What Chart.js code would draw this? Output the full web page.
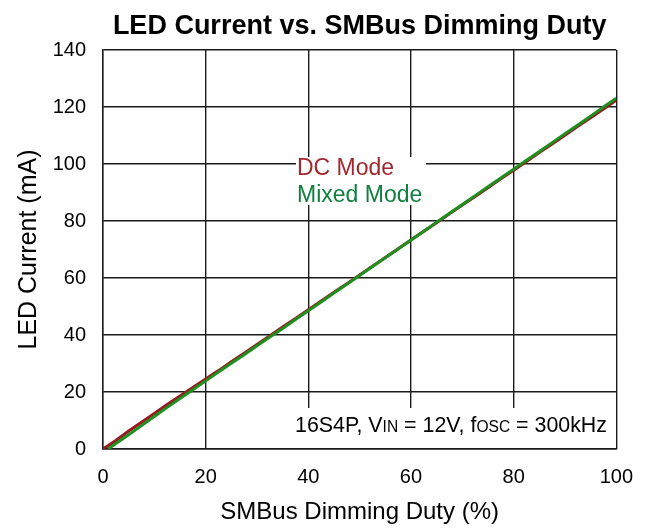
<!DOCTYPE html>
<html>
<head>
<meta charset="utf-8">
<script src="https://cdn.jsdelivr.net/npm/chart.js@4"></script>
<style>
  html, body { margin: 0; padding: 0; background: #fff; }
  #wrap { width: 649px; height: 531px; }
</style>
</head>
<body>
<div id="wrap"><canvas id="myChart" width="649" height="531"></canvas></div>
<script>
let dutyDC = [0, 2.5, 5, 7.5, 10, 12.5, 15, 17.5, 20, 22.5, 25, 27.5, 30, 32.5, 35, 37.5, 40, 42.5, 45, 47.5, 50,
              52.5, 55, 57.5, 60, 62.5, 65, 67.5, 70, 72.5, 75, 77.5, 80, 82.5, 85, 87.5, 90, 92.5, 95, 97.5, 100];
let currentDC = [0, 3.0, 6.3, 9.4, 12.5, 15.6, 18.6, 21.6, 24.6, 27.5, 30.6, 33.6, 36.7, 39.7, 42.8, 45.8, 48.9, 51.9, 55.0, 58.0, 61.1,
                 64.1, 67.2, 70.3, 73.3, 76.4, 79.4, 82.5, 85.6, 88.6, 91.7, 94.8, 97.8, 100.9, 104.0, 107.0, 110.1, 113.2, 116.2, 119.3, 122.4];
let dutyMixed = [1.0, 2.5, 5, 7.5, 10, 12.5, 15, 17.5, 20, 22.5, 25, 27.5, 30, 32.5, 35, 37.5, 40, 42.5, 45, 47.5, 50,
                 52.5, 55, 57.5, 60, 62.5, 65, 67.5, 70, 72.5, 75, 77.5, 80, 82.5, 85, 87.5, 90, 92.5, 95, 97.5, 100];
let currentMixed = [0, 1.9, 5.0, 8.2, 11.4, 14.6, 17.7, 20.8, 23.9, 27.0, 30.1, 33.1, 36.2, 39.3, 42.3, 45.4, 48.5, 51.6, 54.7, 57.8, 60.9,
                    64.0, 67.1, 70.2, 73.3, 76.4, 79.6, 82.7, 85.8, 88.9, 92.0, 95.1, 98.2, 101.3, 104.4, 107.5, 110.6, 113.7, 116.8, 120.0, 123.1];
let seriesNames = ['DC Mode', 'Mixed Mode'];
let xTicks = [0, 20, 40, 60, 80, 100];
let yTicks = [0, 20, 40, 60, 80, 100, 120, 140];

const FONT = "'Liberation Sans', Arial, sans-serif";

function pts(xs, ys) {
    return xs.map((x, i) => ({ x: x, y: ys[i] }));
}

// title, legend text and the condition note, drawn on top of the grid
const notes = {
    id: 'notes',
    afterDatasetsDraw(chart) {
        const ctx = chart.ctx;
        const area = chart.chartArea;
        ctx.save();

        ctx.fillStyle = '#000';
        ctx.font = 'bold 27px ' + FONT;
        ctx.textAlign = 'center';
        ctx.textBaseline = 'alphabetic';
        ctx.fillText('LED Current vs. SMBus Dimming Duty', (area.left + area.right) / 2, 34);

        // legend
        ctx.fillStyle = '#fff';
        ctx.fillRect(296, 157, 130, 48);
        ctx.font = '23px ' + FONT;
        ctx.textAlign = 'left';
        ctx.fillStyle = '#a0282e';
        ctx.fillText(seriesNames[0], 297, 175);
        ctx.fillStyle = '#0f8040';
        ctx.fillText(seriesNames[1], 297, 202);

        // condition note
        ctx.fillStyle = '#fff';
        ctx.fillRect(290, 408, area.right - 291, area.bottom - 409);
        ctx.fillStyle = '#000';
        const parts = [['16S4P, V', 22, 0], ['IN', 16, 0], [' = 12V, f', 22, 0], ['OSC', 16, 0], [' = 300kHz', 22, 0]];
        let total = 0;
        parts.forEach(p => { ctx.font = p[1] + 'px ' + FONT; total += ctx.measureText(p[0]).width; });
        ctx.translate(295, 432);
        ctx.scale(312 / total, 1);
        let x = 0;
        parts.forEach(p => {
            ctx.font = p[1] + 'px ' + FONT;
            ctx.fillText(p[0], x, p[2]);
            x += ctx.measureText(p[0]).width;
        });
        ctx.restore();
    }
};

let chart = new Chart(document.getElementById('myChart').getContext('2d'), {
    type: 'line',
    data: {
        datasets: [{
            label: seriesNames[0],
            data: pts(dutyDC, currentDC),
            borderColor: '#961a1e',
            borderWidth: 3,
            pointRadius: 0,
            tension: 0,
            order: 1
        }, {
            // green trace sits on top of the red one
            label: seriesNames[1],
            data: pts(dutyMixed, currentMixed),
            borderColor: '#1f8f1f',
            borderWidth: 3,
            pointRadius: 0,
            tension: 0,
            order: 0
        }]
    },
    options: {
        responsive: false,
        animation: false,
        layout: { padding: { top: 50, right: 31, left: 0, bottom: 0 } },
        plugins: {
            legend: { display: false },
            title: { display: false },
            tooltip: { enabled: false }
        },
        scales: {
            x: {
                type: 'linear',
                min: 0,
                max: 100,
                afterBuildTicks: s => { s.ticks = xTicks.map(v => ({ value: v })); },
                afterFit: s => { s.height = 82; },
                grid: { color: '#1a1a1a', lineWidth: 1.4, drawTicks: false },
                border: { color: '#1a1a1a', width: 1.4 },
                ticks: { color: '#000', font: { family: FONT, size: 20 }, padding: 16 },
                title: {
                    display: true,
                    text: 'SMBus Dimming Duty (%)',
                    color: '#000',
                    font: { family: FONT, size: 24 },
                    padding: { top: 4, bottom: 4 }
                }
            },
            y: {
                min: 0,
                max: 140,
                afterBuildTicks: s => { s.ticks = yTicks.map(v => ({ value: v })); },
                afterFit: s => { s.width = 103; },
                grid: { color: '#1a1a1a', lineWidth: 1.4, drawTicks: false },
                border: { color: '#1a1a1a', width: 1.4 },
                ticks: { color: '#000', font: { family: FONT, size: 20 }, padding: 17 },
                title: {
                    display: true,
                    text: 'LED Current (mA)',
                    color: '#000',
                    font: { family: FONT, size: 25 },
                    padding: { top: 14, bottom: 0 }
                }
            }
        }
    },
    plugins: [notes]
});
</script>
</body>
</html>
